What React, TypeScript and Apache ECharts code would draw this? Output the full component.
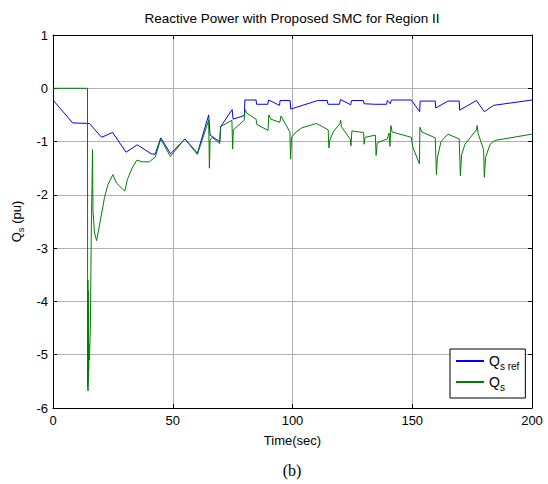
import React, { useEffect, useRef } from "react";
import * as echarts from "echarts";

const titleText = "Reactive Power with Proposed SMC for Region II";
const xName = "Time(sec)";
const caption = "(b)";
const seriesNames = ["Qs ref", "Qs"];

const qsRefTime = [0, 8.2, 15.2, 20.3, 24.9, 30.5, 35.2, 41, 42.6, 45, 49.1, 55.1, 60.3, 65.0, 65.6, 69.6, 70, 74.8, 75.2, 79.9, 80.1, 84.8, 85, 89.7, 90, 94.6, 94.8, 99, 99.3, 110.5, 114.5, 114.8, 119.6, 120, 124.3, 124.6, 129.6, 129.9, 134.5, 139.3, 139.6, 140.8, 141.3, 149.6, 153.1, 153.3, 159.6, 159.8, 164.9, 169.6, 169.8, 176.8, 180.1, 184, 200];
const qsRefValue = [-0.22, -0.65, -0.66, -0.92, -0.83, -1.2, -1.06, -1.23, -1.24, -0.93, -1.23, -0.95, -1.22, -0.5, -0.88, -1.0, -0.72, -0.4, -0.58, -0.51, -0.22, -0.22, -0.3, -0.3, -0.22, -0.32, -0.23, -0.23, -0.39, -0.23, -0.23, -0.3, -0.3, -0.21, -0.31, -0.23, -0.23, -0.29, -0.3, -0.3, -0.23, -0.29, -0.22, -0.22, -0.44, -0.24, -0.24, -0.37, -0.24, -0.24, -0.41, -0.23, -0.44, -0.32, -0.22];

const qsTime = [0, 14.4, 14.45, 14.5, 14.55, 14.6, 14.7, 14.75, 14.85, 14.9, 15.0, 15.2, 15.6, 16.0, 16.3, 16.5, 16.7, 17.3, 18.2, 19.5, 21.5, 23, 25, 26.5, 30, 31, 33, 35, 37.4, 40.2, 42.7, 45, 49, 55, 60.3, 65, 65.3, 65.6, 66.5, 69.6, 70, 74.7, 75, 75.3, 79.8, 80.2, 81, 84.8, 85.1, 89.8, 90.1, 91, 94.7, 95.2, 98.9, 99.2, 99.6, 101.5, 104, 110, 114.9, 115.2, 115.6, 117, 119.8, 120.1, 120.4, 124.2, 124.4, 124.8, 129.7, 129.9, 130.3, 134.6, 134.9, 135.4, 139.6, 140.3, 140.7, 141.1, 141.6, 149.6, 150.2, 153, 153.2, 154, 159.6, 160.1, 160.5, 162, 164.9, 169.6, 170.1, 170.6, 172, 176.8, 177.1, 177.5, 179.8, 180.1, 180.6, 182.5, 184.4, 200];
const qsValue = [0, 0, -3.5, -5.6, -3.6, -5.68, -3.8, -5.5, -4.2, -5.3, -4.8, -5.1, -4.5, -2.6, -1.8, -1.15, -2.3, -2.7, -2.86, -2.55, -2.05, -1.8, -1.62, -1.78, -1.93, -1.72, -1.5, -1.35, -1.38, -1.38, -1.29, -0.95, -1.28, -0.95, -1.24, -0.6, -1.5, -0.97, -0.92, -1.04, -0.72, -0.6, -1.14, -0.78, -0.6, -0.4, -0.47, -0.58, -0.68, -0.79, -0.5, -0.58, -0.64, -0.52, -0.82, -1.33, -0.92, -0.82, -0.74, -0.66, -0.78, -1.12, -0.97, -0.82, -0.66, -0.6, -0.72, -0.96, -1.08, -0.8, -0.83, -1.05, -0.92, -0.88, -1.26, -1.02, -0.95, -0.84, -1.09, -0.7, -0.82, -0.92, -1.1, -1.42, -0.73, -0.82, -0.93, -1.62, -1.3, -1.0, -0.86, -0.95, -1.64, -1.25, -1.05, -0.78, -0.7, -0.85, -1.15, -1.67, -1.3, -1.05, -0.98, -0.86];

const xTicks = { min: 0, max: 200, interval: 50 };
const yTicks = { min: -6, max: 1, interval: 1 };

const FONT = "'Liberation Sans', Arial, sans-serif";

export default function App() {
  const ref = useRef<HTMLDivElement>(null);
  useEffect(() => {
    if (!ref.current) return;
    const chart = echarts.init(ref.current, null, { renderer: "svg" });
    const zip = (t: number[], v: number[]) => t.map((x, i) => [x, v[i]]);
    const gridL = 53, gridR = 16, gridT = 35, gridB = 76;
    const axisBase = {
      axisLine: { show: true, onZero: false, lineStyle: { color: "#000", width: 1 } },
      axisTick: { show: true, inside: true, length: 4, lineStyle: { color: "#000" } },
    };
    chart.setOption({
      animation: false,
      backgroundColor: "#fff",
      grid: { left: gridL, right: gridR, top: gridT, bottom: gridB, containLabel: false },
      graphic: [
        {
          type: "text",
          x: 292,
          y: 18,
          style: { text: titleText, align: "center", verticalAlign: "middle", fontSize: 13.5, fontFamily: FONT, fill: "#000" },
        },
        {
          type: "text",
          x: 292,
          y: 470,
          style: { text: caption, align: "center", verticalAlign: "middle", fontSize: 16, fontFamily: "'Liberation Serif', 'Times New Roman', serif", fill: "#000" },
        },
      ],
      legend: {
        orient: "vertical",
        left: 450,
        top: 349,
        data: seriesNames,
        icon: "rect",
        padding: [5, 6, 6, 6],
        itemGap: 4,
        itemWidth: 28,
        itemHeight: 2,
        borderColor: "#000",
        borderWidth: 1,
        borderRadius: 0,
        backgroundColor: "#fff",
        formatter: (name: string) => (name === "Qs ref" ? "{q|Q}{s|s ref}" : "{q|Q}{s|s}"),
        textStyle: {
          fontFamily: FONT,
          color: "#000",
          rich: {
            q: { fontSize: 14, fontFamily: FONT, color: "#000", lineHeight: 22, verticalAlign: "middle" },
            s: { fontSize: 10, fontFamily: FONT, color: "#000", padding: [10, 0, 0, 0], verticalAlign: "middle" },
          },
        },
      },
      xAxis: [
        {
          type: "value",
          position: "bottom",
          ...xTicks,
          ...axisBase,
          name: xName,
          nameLocation: "middle",
          nameGap: 25.5,
          nameTextStyle: { fontFamily: FONT, fontSize: 13, color: "#000" },
          axisLabel: { fontFamily: FONT, fontSize: 13, color: "#000", margin: 6 },
          splitLine: { show: true, lineStyle: { color: "#b0b0b0", width: 1 } },
        },
        {
          type: "value",
          position: "top",
          ...xTicks,
          ...axisBase,
          axisLabel: { show: false },
          splitLine: { show: false },
        },
      ],
      yAxis: [
        {
          type: "value",
          position: "left",
          ...yTicks,
          ...axisBase,
          name: "{q|Q}{s|s}{q| (pu)}",
          nameLocation: "middle",
          nameGap: 27,
          nameRotate: 90,
          nameTextStyle: {
            fontFamily: FONT,
            color: "#000",
            rich: {
              q: { fontSize: 13, fontFamily: FONT, color: "#000", verticalAlign: "middle" },
              s: { fontSize: 9.5, fontFamily: FONT, color: "#000", padding: [8, 0, 0, 0], verticalAlign: "middle" },
            },
          },
          axisLabel: { fontFamily: FONT, fontSize: 13, color: "#000", margin: 5 },
          splitLine: { show: true, lineStyle: { color: "#b0b0b0", width: 1 } },
        },
        {
          type: "value",
          position: "right",
          ...yTicks,
          ...axisBase,
          axisLabel: { show: false },
          splitLine: { show: false },
        },
      ],
      series: [
        {
          name: seriesNames[0],
          type: "line",
          data: zip(qsRefTime, qsRefValue),
          symbol: "none",
          lineStyle: { color: "#0000ff", width: 1 },
          itemStyle: { color: "#0000ff" },
          z: 2,
        },
        {
          name: seriesNames[1],
          type: "line",
          data: zip(qsTime, qsValue),
          symbol: "none",
          lineStyle: { color: "#008000", width: 1 },
          itemStyle: { color: "#008000" },
          z: 3,
        },
      ],
    });
    return () => chart.dispose();
  }, []);
  return <div ref={ref} style={{ position: "fixed", left: 0, top: 0, width: 548, height: 484 }} />;
}
